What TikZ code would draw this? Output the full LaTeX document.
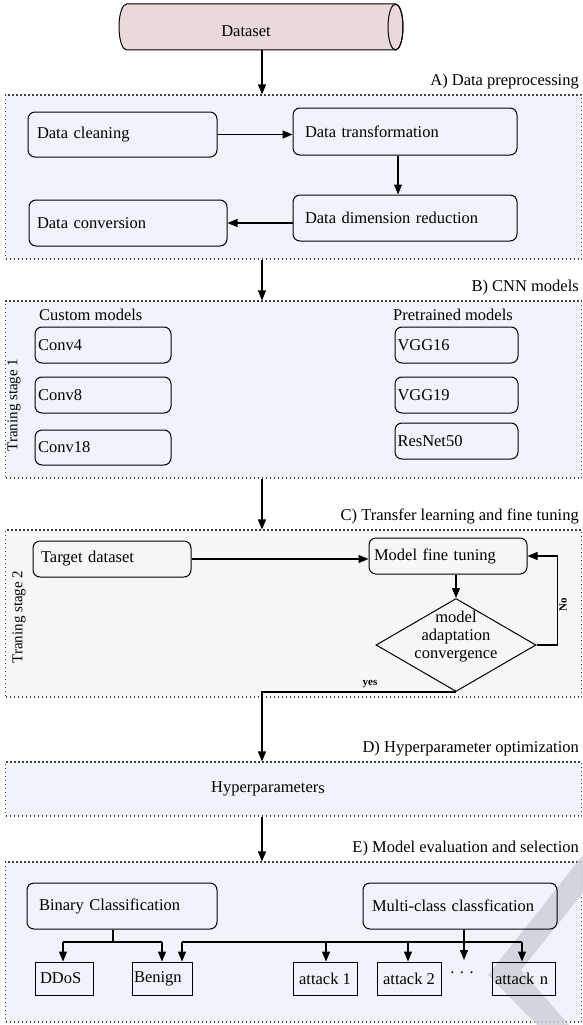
\documentclass[tikz,border=0pt]{standalone}
\usepackage{fontspec}
\setmainfont{Liberation Serif}
\usetikzlibrary{arrows.meta,shapes.geometric}
\definecolor{secblue}{RGB}{239,244,251}
\definecolor{secgray}{RGB}{247,247,247}
\definecolor{dspink}{RGB}{235,216,216}
\definecolor{wmark}{RGB}{206,208,215}
\begin{document}
\begin{tikzpicture}[x=1pt,y=-1pt,
  every node/.style={font=\fontsize{16.5}{18}\selectfont},
  sec/.style={draw=black!75, line width=1.1pt, dash pattern=on 1.1pt off 2.9pt, inner sep=0pt, minimum width=576pt},
  rbox/.style={draw, line width=1pt, rounded corners=7pt, align=left, inner ysep=0pt},
  sbox/.style={draw, line width=1pt, inner ysep=0pt},
  arr/.style={line width=1.1pt, -{Triangle[length=10pt,width=8pt]}},
  ln/.style={line width=1.1pt},
  seclabel/.style={anchor=base east, inner sep=0pt},
  tinylbl/.style={font=\fontsize{11}{12}\selectfont\bfseries, inner sep=0pt},
  stagelbl/.style={font=\fontsize{15}{16}\selectfont, rotate=90, inner sep=0pt}
]
\useasboundingbox (0,0) rectangle (582,1025);

% ---------- sections ----------
\node[sec, fill=secblue, minimum height=164pt] (A) at (293.5,177) {};
\node[sec, fill=secblue, minimum height=177pt] (B) at (293.5,389.5) {};
\node[sec, fill=secgray, minimum height=167pt] (C) at (293.5,613.5) {};
\node[sec, fill=secblue, minimum height=54pt] (D) at (293.5,789) {};
\node[sec, fill=secblue, minimum height=160pt] (E) at (293.5,942) {};
\fill[wmark, fill opacity=0.85] (590,846) -- (590,884) -- (521,970) -- (570,1026) -- (538,1026) -- (488,975) -- cycle;

\node[seclabel] (la) at (579,85) {A) Data preprocessing};
\node[seclabel] (lb) at (579,291) {B) CNN models};
\node[seclabel] (lc) at (579,520) {C) Transfer learning and fine tuning};
\node[seclabel] (ld) at (579,752) {D) Hyperparameter optimization};
\node[seclabel] (le) at (579,852) {E) Model evaluation and selection};

% ---------- dataset cylinder ----------
\fill[dspink] (126.5,4) -- (395.5,4) arc[start angle=90, end angle=-90, x radius=7.5pt, y radius=23pt]
  -- (126.5,50) arc[start angle=270, end angle=90, x radius=7.5pt, y radius=23pt] -- cycle;
\draw[line width=1pt] (126.5,4) -- (395.5,4) arc[start angle=90, end angle=-90, x radius=7.5pt, y radius=23pt]
  -- (126.5,50) arc[start angle=270, end angle=90, x radius=7.5pt, y radius=23pt] -- cycle;
\draw[line width=1pt] (395.5,27) ellipse[x radius=7.5pt, y radius=23pt];
\node (ds) at (246,31) {Dataset};
\coordinate (dsb) at (262,50);

% ---------- A ----------
\node[rbox, minimum width=189pt, minimum height=45pt, inner xsep=9pt, text width=171pt] (clean) at (122.5,134.5) {Data cleaning};
\node[rbox, minimum width=224pt, minimum height=47pt, inner xsep=12pt, text width=200pt] (trans) at (405,131.5) {Data transformation};
\node[rbox, minimum width=224pt, minimum height=46pt, inner xsep=12pt, text width=200pt] (dimred) at (405,218) {Data dimension reduction};
\node[rbox, minimum width=198pt, minimum height=46pt, inner xsep=8pt, text width=182pt] (conv) at (128,223) {Data conversion};

% ---------- B ----------
\node[anchor=base west, inner sep=0pt] (cm) at (39,320) {Custom models};
\node[anchor=base west, inner sep=0pt] (pm) at (393,320) {Pretrained models};
\node[rbox, minimum width=136pt, minimum height=36pt, inner xsep=3pt, text width=130pt] (c4) at (103,345) {Conv4};
\node[rbox, minimum width=136pt, minimum height=36pt, inner xsep=3pt, text width=130pt] (c8) at (103,395) {Conv8};
\node[rbox, minimum width=136pt, minimum height=35pt, inner xsep=3pt, text width=130pt] (c18) at (103,447.5) {Conv18};
\node[rbox, minimum width=123pt, minimum height=36pt, inner xsep=2.5pt, text width=118pt] (v16) at (456.5,345) {VGG16};
\node[rbox, minimum width=123pt, minimum height=36pt, inner xsep=2.5pt, text width=118pt] (v19) at (456.5,395) {VGG19};
\node[rbox, minimum width=123pt, minimum height=36pt, inner xsep=2.5pt, text width=118pt] (rn) at (456.5,441) {ResNet50};
\node[stagelbl] (st1) at (14,405) {Traning stage 1};

% ---------- C ----------
\node[rbox, minimum width=158pt, minimum height=36pt, inner xsep=8pt, text width=142pt] (target) at (112,559) {Target dataset};
\node[rbox, minimum width=158pt, minimum height=36pt, inner xsep=5pt, text width=148pt] (fine) at (448,556) {Model fine tuning};
\node[diamond, draw, line width=1pt, minimum width=160pt, minimum height=93pt, inner sep=0pt] (dec) at (456,645) {};
\node[align=center, inner sep=0pt] (dectext) at (456,637) {model\\adaptation\\convergence};
\node[stagelbl] (st2) at (19,617) {Traning stage 2};
\node[tinylbl, rotate=90] (no) at (563,605) {No};
\node[tinylbl] (yes) at (370,684) {yes};

% ---------- D ----------
\node[anchor=base, inner sep=0pt] (hyp) at (268,792) {Hyperparameter\raisebox{-1.5pt}{s}};

% ---------- E ----------
\node[rbox, minimum width=190pt, minimum height=46pt, inner xsep=12pt, text width=166pt] (binary) at (122,906) {Binary Classification};
\node[rbox, minimum width=194pt, minimum height=46pt, inner xsep=9pt, text width=176pt] (multi) at (460,906) {Multi-class classfication};
\node[sbox, minimum width=58pt, minimum height=33pt, inner xsep=5pt, text width=48pt, align=left] (ddos) at (64,978.5) {DDoS};
\node[sbox, minimum width=60pt, minimum height=33pt, inner xsep=2pt, text width=56pt, align=left] (benign) at (162,978.5) {Benign};
\node[sbox, minimum width=64pt, minimum height=33pt] (att1) at (325,978.5) {attack 1};
\node[sbox, minimum width=64pt, minimum height=33pt] (att2) at (409,978.5) {attack 2};
\node[sbox, minimum width=63pt, minimum height=33pt, inner xsep=3pt, text width=57pt, align=left] (attn) at (523.5,978.5) {attack n};
\node[inner sep=0pt] (dots) at (462,973) {.\,\,.\,\,.};

% ---------- connectors ----------
\draw[arr] (dsb) -- (dsb |- A.north);
\draw[arr] (clean.east) -- (clean.east -| trans.west);
\draw[arr] ([xshift=-7pt]trans.south) -- ([xshift=-7pt]dimred.north);
\draw[arr] (dimred.west |- conv.east) -- (conv.east);
\draw[arr] (dsb |- A.south) -- (dsb |- B.north);
\draw[arr] (dsb |- B.south) -- (dsb |- C.north);
\draw[arr] (target.east) -- (target.east -| fine.west);
\draw[arr] (fine.south -| dec.north) -- (dec.north);
\draw[arr] (dec.east) -- ++(21,0) |- (fine.east);
\draw[arr] (dec.south) -- (dsb |- dec.south) -- (dsb |- D.north);
\draw[arr] (dsb |- D.south) -- (dsb |- E.north);

\coordinate (bj) at (113,942);
\coordinate (bl) at (63,942);
\coordinate (br) at (162,942);
\draw[ln] (bj |- binary.south) -- (bj);
\draw[ln] (bl) -- (br);
\draw[arr] (bl) -- (bl |- ddos.north);
\draw[arr] (br) -- (br |- benign.north);

\coordinate (ml) at (182,942);
\coordinate (mr) at (522,942);
\coordinate (m1) at (326,942);
\coordinate (m2) at (408,942);
\draw[ln] (ml) -- (mr);
\draw[arr] (464,942 |- multi.south) -- (464,960);
\draw[arr] (ml) -- (ml |- benign.north);
\draw[arr] (m1) -- (m1 |- att1.north);
\draw[arr] (m2) -- (m2 |- att2.north);
\draw[arr] (mr) -- (mr |- attn.north);
\end{tikzpicture}
\end{document}
